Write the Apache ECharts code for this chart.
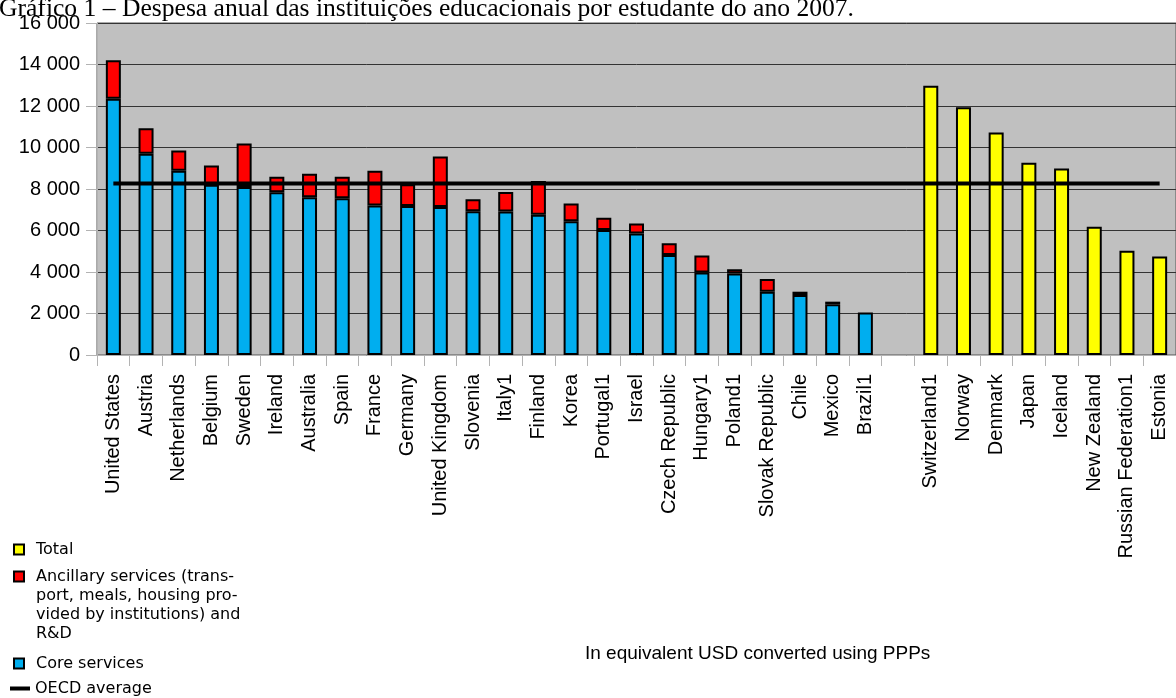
<!DOCTYPE html>
<html><head><meta charset="utf-8">
<script src="https://cdn.jsdelivr.net/npm/echarts@6/dist/echarts.min.js"></script>
<style>html,body{margin:0;padding:0;background:#fff;overflow:hidden}#c{width:1176px;height:698px}</style>
</head><body><div id="c"></div>
<script>
// Categories (an empty slot separates the two groups)
const categories = ['United States','Austria','Netherlands','Belgium','Sweden','Ireland','Australia','Spain','France','Germany','United Kingdom','Slovenia','Italy1','Finland','Korea','Portugal1','Israel','Czech Republic','Hungary1','Poland1','Slovak Republic','Chile','Mexico','Brazil1','','Switzerland1','Norway','Denmark','Japan','Iceland','New Zealand','Russian Federation1','Estonia'];
const coreServices = [12350,9700,8880,8200,8100,7840,7600,7550,7210,7180,7130,6930,6920,6760,6450,6020,5860,4820,3980,3930,3050,2890,2450,2050,'-','-','-','-','-','-','-','-','-'];
const ancillaryServices = [1850,1230,980,930,2090,750,1130,1040,1670,1050,2440,580,940,1620,850,590,480,560,820,200,610,160,120,'-','-','-','-','-','-','-','-','-','-'];
const totalOnly = ['-','-','-','-','-','-','-','-','-','-','-','-','-','-','-','-','-','-','-','-','-','-','-','-','-',12970,11940,10720,9260,8990,6180,5020,4750];
const oecdAverage = 8270;
const yMin = 0, yMax = 16000, yInterval = 2000;

const titleText = 'Gráfico 1 – Despesa anual das instituições educacionais por estudante do ano 2007.';
const noteText = 'In equivalent USD converted using PPPs';
const nameTotal = 'Total';
const nameAnc = 'Ancillary services (transport, meals, housing provided by institutions) and R&D';
const ancLegendLines = ['Ancillary services (trans-','port, meals, housing pro-','vided by institutions) and','R&D'];
const nameCore = 'Core services';
const nameOecd = 'OECD average';

const chart = echarts.init(document.getElementById('c'), null, {renderer:'canvas'});
const sans = 'Liberation Sans';
const legFont = {fontFamily:'DejaVu Sans', fontSize:16, lineHeight:19, color:'#000', padding:[0,0,0,7]};
const barBorder = {borderColor:'#000', borderWidth:2};

chart.setOption({
  animation:false,
  backgroundColor:'#fff',
  grid:{left:97, top:23, bottom:343, right:-10, show:true, backgroundColor:'#c0c0c0', borderColor:'#555', borderWidth:1, containLabel:false},
  graphic:[
    {type:'text', left:-1, top:-4, style:{text:titleText, font:'25.6px "Liberation Serif"', fill:'#000'}},
    {type:'text', left:585, top:644, style:{text:noteText, font:'19px "Liberation Sans"', fill:'#000'}}
  ],
  legend:[
    {data:[{name:nameTotal, icon:'rect'}], orient:'vertical', left:13, top:540, padding:0, itemWidth:10, itemHeight:10, textStyle:legFont},
    {data:[{name:nameAnc, icon:'rect'}], orient:'vertical', left:13, top:510, padding:0, itemWidth:10, itemHeight:10, textStyle:legFont,
      formatter:function(){return '\n\n\n' + ancLegendLines.join('\n');}},
    {data:[{name:nameCore, icon:'rect'}], orient:'vertical', left:13, top:654, padding:0, itemWidth:10, itemHeight:10, textStyle:legFont},
    {data:[{name:nameOecd, icon:'rect'}], orient:'vertical', left:10, top:679, padding:0, itemWidth:20, itemHeight:4, textStyle:Object.assign({}, legFont, {padding:[0,0,0,0]})}
  ],
  xAxis:{
    type:'category', data:categories, boundaryGap:true,
    axisLine:{show:true, lineStyle:{color:'#b3b3b3', width:1}},
    axisTick:{show:true, length:11, lineStyle:{color:'#b3b3b3'}},
    axisLabel:{rotate:90, interval:0, margin:19, fontFamily:sans, fontSize:20, color:'#000'},
    splitLine:{show:false}
  },
  yAxis:{
    type:'value', min:yMin, max:yMax, interval:yInterval,
    axisLine:{show:true, lineStyle:{color:'#b3b3b3'}},
    axisTick:{show:true, length:11, lineStyle:{color:'#b3b3b3'}},
    axisLabel:{margin:17, fontFamily:sans, fontSize:20, color:'#000',
      formatter:function(v){return String(v).replace(/\B(?=(\d{3})+(?!\d))/g,' ');}},
    splitLine:{show:true, lineStyle:{color:'#333', width:1}}
  },
  series:[
    {name:nameCore, type:'bar', stack:'a', data:coreServices, barWidth:15,
      itemStyle:Object.assign({color:'#00aeef'}, barBorder)},
    {name:nameAnc, type:'bar', stack:'a', data:ancillaryServices, barWidth:15,
      itemStyle:Object.assign({color:'#ff0000'}, barBorder)},
    {name:nameTotal, type:'bar', stack:'a', data:totalOnly, barWidth:15,
      itemStyle:Object.assign({color:'#ffff00'}, barBorder)},
    {name:nameOecd, type:'line', data:categories.map(function(){return oecdAverage;}),
      symbol:'none', showSymbol:false, lineStyle:{color:'#000', width:4}, itemStyle:{color:'#000'}, z:5}
  ]
});
</script></body></html>
